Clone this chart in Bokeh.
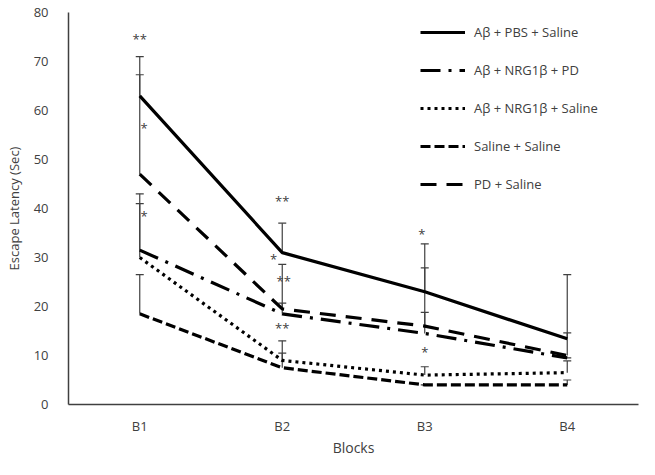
from bokeh.plotting import figure
from bokeh.models import ColumnDataSource, Whisker, Legend, LegendItem, FactorRange, Range1d
from bokeh.core.properties import value
from bokeh.embed import file_html
from bokeh.resources import INLINE

blocks = ["B1", "B2", "B3", "B4"]

abeta_pbs_saline = [63, 31, 23, 13.4]
abeta_nrg_pd = [31.5, 18.5, 14.5, 9.5]
abeta_nrg_saline = [30, 9, 6, 6.5]
saline_saline = [18.5, 7.5, 4, 4]
pd_saline = [47, 19.5, 16, 10]

upper_abeta_pbs_saline = [71, 37, 32.8, 26.5]
upper_abeta_nrg_pd = [43, 20.7, 27.9, 9.5]
upper_abeta_nrg_saline = [41, 13, 7.7, 8.9]
upper_saline_saline = [26.5, 10.5, 4, 5]
upper_pd_saline = [67.3, 28.6, 18.8, 14.6]

star_blocks = ["B1", "B1", "B1", "B2", "B2", "B2", "B2", "B3", "B3"]
star_values = [74.5, 56.5, 38.5, 41.5, 29.7, 25.3, 15.6, 34.8, 10.7]
star_labels = ["**", "*", "*", "**", "*", "**", "**", "*", "*"]
star_shift = [0, 0.03, 0.03, 0, -0.06, 0.01, 0, -0.02, 0]

series_names = ["A\u03b2 + PBS + Saline", "A\u03b2 + NRG1\u03b2 + PD",
                "A\u03b2 + NRG1\u03b2 + Saline", "Saline + Saline", "PD + Saline"]

FONT = "Open Sans"
GREY = "#404040"

p = figure(width=639, height=459, x_range=FactorRange(*blocks), y_range=Range1d(0, 80),
           output_backend="svg", toolbar_location=None,
           min_border_left=68, min_border_right=1, min_border_top=12, min_border_bottom=40)
p.outline_line_color = None
p.xgrid.grid_line_color = None
p.ygrid.grid_line_color = None
p.x_range.range_padding = 0

for ax in (p.xaxis[0], p.yaxis[0]):
    ax.major_tick_line_color = None
    ax.minor_tick_line_color = None
    ax.axis_line_color = GREY
    ax.axis_line_width = 1.5
    ax.major_label_text_font = FONT
    ax.major_label_text_font_size = "13px"
    ax.major_label_text_color = GREY
    ax.axis_label_text_font = FONT
    ax.axis_label_text_color = GREY
    ax.axis_label_text_font_style = "normal"

p.yaxis.ticker = list(range(0, 81, 10))
p.yaxis.axis_label = "Escape Latency (Sec)"
p.yaxis.axis_label_text_font_size = "13px"
p.yaxis.major_label_standoff = 14
p.yaxis.axis_label_standoff = 8
p.xaxis.axis_label = "Blocks"
p.xaxis.axis_label_text_font_size = "14px"
p.xaxis.major_label_standoff = 6
p.xaxis.axis_label_standoff = 0

# error bars
all_vals = [abeta_pbs_saline, abeta_nrg_pd, abeta_nrg_saline, saline_saline, pd_saline]
all_up = [upper_abeta_pbs_saline, upper_abeta_nrg_pd, upper_abeta_nrg_saline,
          upper_saline_saline, upper_pd_saline]
for vals, ups in zip(all_vals, all_up):
    src = ColumnDataSource(dict(x=blocks, lo=vals, up=ups))
    w = Whisker(base="x", lower="lo", upper="up", source=src, dimension="height",
                line_color=GREY, line_width=1.2, lower_head=None)
    w.upper_head.size = 8
    w.upper_head.line_color = GREY
    w.upper_head.line_width = 1.2
    p.add_layout(w)

styles = [
    dict(line_dash="solid"),
    dict(line_dash="20 8 3 8"),
    dict(line_dash="3 4"),
    dict(line_dash="10 4"),
    dict(line_dash="16 10"),
]
renderers = []
for vals, st in zip(all_vals, styles):
    r = p.line(x=blocks, y=vals, line_color="black", line_width=3.2, **st)
    renderers.append(r)

legend = Legend(items=[LegendItem(label=n, renderers=[r]) for n, r in zip(series_names, renderers)],
                location=(352, 210))
legend.border_line_color = None
legend.background_fill_alpha = 0
legend.label_text_font = FONT
legend.label_text_font_size = "13px"
legend.label_text_color = GREY
legend.glyph_width = 45
legend.glyph_height = 20
legend.label_height = 20
legend.spacing = 18
legend.padding = 0
legend.margin = 0
legend.label_standoff = 9
p.add_layout(legend, "center")

star_x = [(b, s) for b, s in zip(star_blocks, star_shift)]
star_src = ColumnDataSource(dict(x=star_x, y=star_values, t=star_labels))
p.text(x="x", y="y", text="t", source=star_src, text_font=value(FONT),
       text_font_size="13px", text_color=GREY, text_align="center", text_baseline="middle")

open("out.html", "w").write(file_html(p, INLINE))
